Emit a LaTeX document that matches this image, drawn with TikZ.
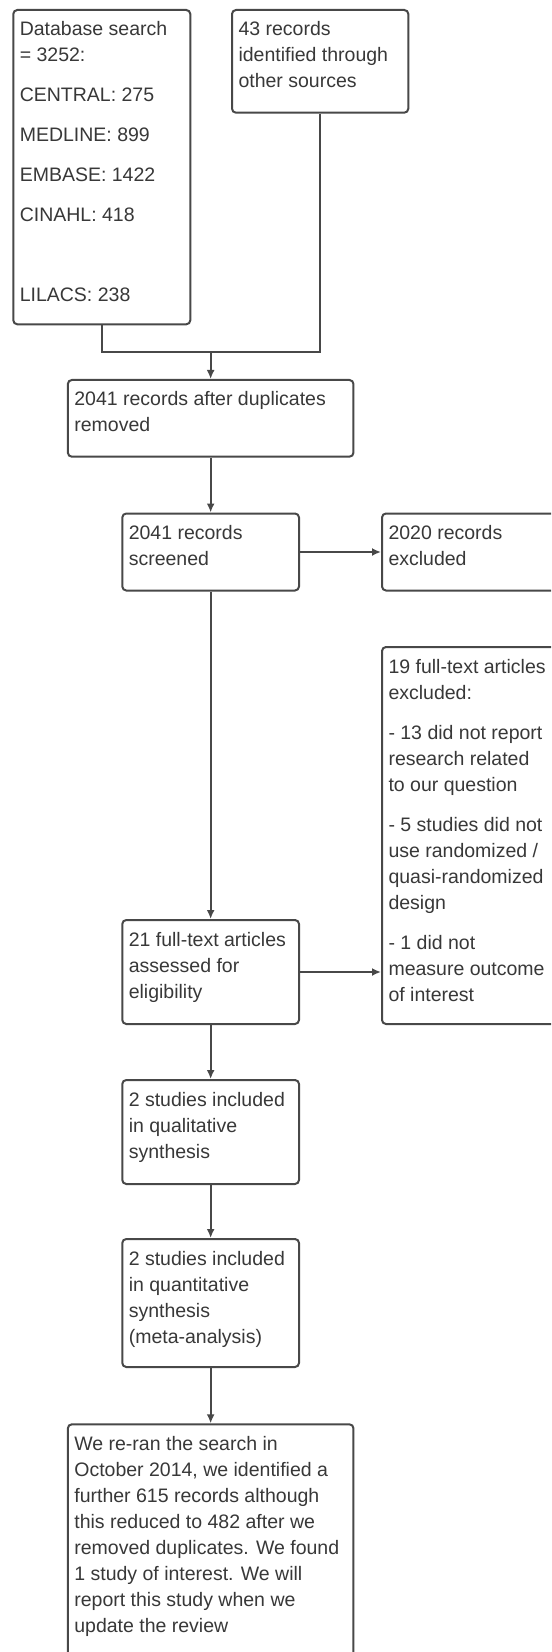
\documentclass[tikz,border=0pt]{standalone}
\usepackage{fontspec}
\setmainfont{Liberation Sans}
\usetikzlibrary{arrows.meta}
\definecolor{boxline}{HTML}{484848}
\definecolor{boxtext}{HTML}{383838}
\newcommand{\boxpar}[3]{\parbox[t][#1][t]{#2}{\raggedright\rule{0pt}{13pt}#3}}
\tikzset{
 flowbox/.style={draw=boxline,line width=1pt,rounded corners=2pt,fill=white,anchor=north west,
  inner xsep=3.25pt,inner ysep=0pt,text=boxtext,font=\fontsize{9.75pt}{13pt}\selectfont},
 flowline/.style={draw=boxline,line width=1pt},
 flowarrow/.style={flowline,-{Latex[length=4.5pt,width=4pt]}}
}
\begin{document}
\begin{tikzpicture}[x=0.5pt,y=-0.5pt]
 \useasboundingbox (0,0) rectangle (551,1652);
 \clip (0,0) rectangle (551,1652);
 \fill[white] (0,0) rectangle (551,1652);
 \node[flowbox] (db) at (12.3,9) {\boxpar{157.15pt}{82pt}{Database search\\= 3252:\\[7pt]CENTRAL: 275\\[7pt]MEDLINE: 899\\[7pt]EMBASE: 1422\\[7pt]CINAHL: 418\\[7pt]\mbox{}\\[7pt]LILACS: 238}};
 \node[flowbox] (src) at (231,9) {\boxpar{51.35pt}{81.65pt}{43 records\\identified through\\other sources}};
 \node[flowbox] (dup) at (66.85,379) {\boxpar{38.35pt}{136.3pt}{2041 records after duplicates\\removed}};
 \node[flowbox] (screened) at (121.3,512.5) {\boxpar{38.5pt}{81.85pt}{2041 records\\screened}};
 \node[flowbox] (excl) at (381,512.5) {\boxpar{38.5pt}{85pt}{2020 records\\excluded}};
 \node[flowbox] (fulltext) at (121.3,919) {\boxpar{52pt}{81.85pt}{21 full-text articles\\assessed for\\eligibility}};
 \node[flowbox] (exclft) at (381,646) {\boxpar{188.5pt}{85pt}{19 full-text articles\\excluded:\\[7pt]- 13 did not report\\research related\\to our question\\[7pt]- 5 studies did not\\use randomized /\\quasi-randomized\\design\\[7pt]- 1 did not\\measure outcome\\of interest}};
 \node[flowbox] (qual) at (121.3,1079) {\boxpar{52pt}{81.85pt}{2 studies included\\in qualitative\\synthesis}};
 \node[flowbox] (quant) at (121.3,1238) {\boxpar{64pt}{81.85pt}{2 studies included\\in quantitative\\synthesis\\(meta-analysis)}};
 \node[flowbox] (rerun) at (66.85,1423.3) {\boxpar{124pt}{136.3pt}{We re-ran the search in\\October 2014, we identified a\\further 615 records although\\this reduced to 482 after we\\removed duplicates. We found\\1 study of interest. We will\\report this study when we\\update the review}};
 \path (dup.north) ++(0,-27) coordinate (join);
 \draw[flowline] (db.south) |- (join);
 \draw[flowline] (src.south) |- (join);
 \draw[flowarrow] (join) -- (dup.north);
 \draw[flowarrow] (dup.south) -- (screened.north);
 \draw[flowarrow] (screened.east) -- (excl.west);
 \draw[flowarrow] (screened.south) -- (fulltext.north);
 \draw[flowarrow] (fulltext.east) -- (fulltext.east -| exclft.west);
 \draw[flowarrow] (fulltext.south) -- (qual.north);
 \draw[flowarrow] (qual.south) -- (quant.north);
 \draw[flowarrow] (quant.south) -- (rerun.north);
\end{tikzpicture}
\end{document}
